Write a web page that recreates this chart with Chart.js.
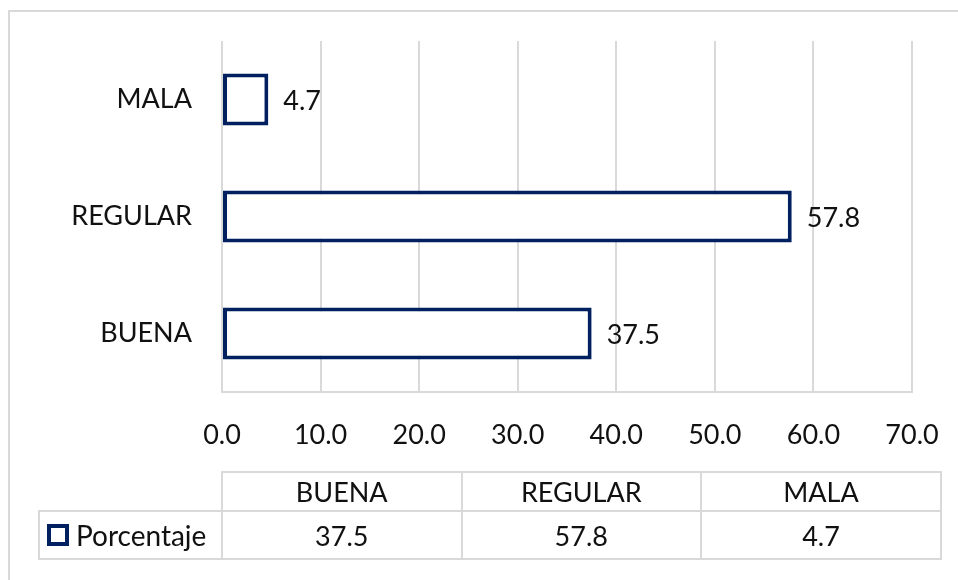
<!DOCTYPE html>
<html>
<head>
<meta charset="utf-8">
<script src="https://cdn.jsdelivr.net/npm/chart.js@4/dist/chart.umd.min.js"></script>
<style>
  html, body { margin: 0; padding: 0; background: #fff; }
  #wrap { position: relative; width: 958px; height: 580px; overflow: hidden; font-family: Lato, "Open Sans", sans-serif; }
  #frame { position: absolute; left: 8px; top: 10px; width: 1000px; height: 1000px; border: 2px solid #d9d9d9; box-sizing: border-box; }
  canvas { position: absolute; left: 0; top: 0; }
  .cell { position: absolute; box-sizing: border-box; display: flex; align-items: center; justify-content: center; font-size: 27px; color: #111; }
  .ln { position: absolute; background: #d9d9d9; }
  .sw { display: inline-block; width: 22px; height: 22px; border: 4px solid #002060; box-sizing: border-box; margin-right: 7px; background: #fff; }
</style>
</head>
<body>
<div id="wrap">
  <div id="frame"></div>
  <canvas id="c" width="958" height="580"></canvas>
  <div id="tbl"></div>
</div>
<script>
const categories = ["BUENA", "REGULAR", "MALA"];
const seriesName = "Porcentaje";
const values = [37.5, 57.8, 4.7];
const xTicks = [0, 10, 20, 30, 40, 50, 60, 70];

const navy = "#002060";
const gridGray = "#d9d9d9";
const textColor = "#111";
const fontFam = "Lato, 'Open Sans', sans-serif";

const valueLabels = {
  id: "valueLabels",
  afterDatasetsDraw(chart) {
    const ctx = chart.ctx;
    const meta = chart.getDatasetMeta(0);
    ctx.save();
    ctx.font = "27px " + fontFam;
    ctx.fillStyle = textColor;
    ctx.textAlign = "left";
    ctx.textBaseline = "middle";
    meta.data.forEach((el, i) => {
      const v = chart.data.datasets[0].data[i];
      ctx.fillText(v.toFixed(1), el.x + 15, el.y + 2);
    });
    ctx.restore();
  }
};

function noPad(s) { s.paddingLeft = 0; s.paddingRight = 0; s.paddingTop = 0; s.paddingBottom = 0; }

new Chart(document.getElementById("c"), {
  type: "bar",
  data: {
    labels: categories,
    datasets: [{
      label: seriesName,
      data: values,
      backgroundColor: "#ffffff",
      borderColor: navy,
      borderWidth: 4,
      borderSkipped: false,
      categoryPercentage: 1,
      barPercentage: 0.445
    }]
  },
  options: {
    indexAxis: "y",
    responsive: false,
    animation: false,
    devicePixelRatio: 1,
    layout: { padding: { left: 0, right: 46, top: 41, bottom: 128 } },
    plugins: { legend: { display: false }, tooltip: { enabled: false } },
    scales: {
      x: {
        min: 0, max: 70,
        afterBuildTicks(s) { s.ticks = xTicks.map(v => ({ value: v })); },
        afterFit(s) { s.height = 60; noPad(s); },
        grid: { color: gridGray, lineWidth: 2, drawTicks: false },
        border: { display: true, color: gridGray, width: 2 },
        ticks: {
          padding: 27,
          color: textColor,
          font: { family: fontFam, size: 27 },
          callback: (v) => Number(v).toFixed(1)
        }
      },
      y: {
        reverse: true,
        afterFit(s) { s.width = 222; noPad(s); },
        grid: { display: false, drawTicks: false },
        border: { display: false },
        ticks: {
          padding: 30,
          color: textColor,
          font: { family: fontFam, size: 27 }
        }
      }
    }
  },
  plugins: [valueLabels]
});

// data table below the chart
(function buildTable() {
  const tbl = document.getElementById("tbl");
  const colX = [222, 461.5, 701, 941];
  const rowY = [472, 511, 559];
  const labelLeft = 39;
  const add = (html) => tbl.insertAdjacentHTML("beforeend", html);
  add(`<div class="ln" style="left:${colX[0]-1}px;top:${rowY[0]-1}px;width:${colX[3]-colX[0]+2}px;height:2px"></div>`);
  add(`<div class="ln" style="left:${labelLeft-1}px;top:${rowY[1]-1}px;width:${colX[3]-labelLeft+2}px;height:2px"></div>`);
  add(`<div class="ln" style="left:${labelLeft-1}px;top:${rowY[2]-1}px;width:${colX[3]-labelLeft+2}px;height:2px"></div>`);
  add(`<div class="ln" style="left:${labelLeft-1}px;top:${rowY[1]-1}px;width:2px;height:${rowY[2]-rowY[1]+2}px"></div>`);
  colX.forEach(x => add(`<div class="ln" style="left:${x-1}px;top:${rowY[0]-1}px;width:2px;height:${rowY[2]-rowY[0]+2}px"></div>`));
  categories.forEach((c, i) => {
    add(`<div class="cell" style="left:${colX[i]}px;top:${rowY[0]}px;width:${colX[i+1]-colX[i]}px;height:${rowY[1]-rowY[0]}px">${c}</div>`);
    add(`<div class="cell" style="left:${colX[i]}px;top:${rowY[1]}px;width:${colX[i+1]-colX[i]}px;height:${rowY[2]-rowY[1]}px">${values[i].toFixed(1)}</div>`);
  });
  add(`<div class="cell" style="left:${labelLeft+8}px;top:${rowY[1]}px;height:${rowY[2]-rowY[1]}px;justify-content:flex-start;font-size:28px"><span class="sw"></span>${seriesName}</div>`);
})();
</script>
</body>
</html>
